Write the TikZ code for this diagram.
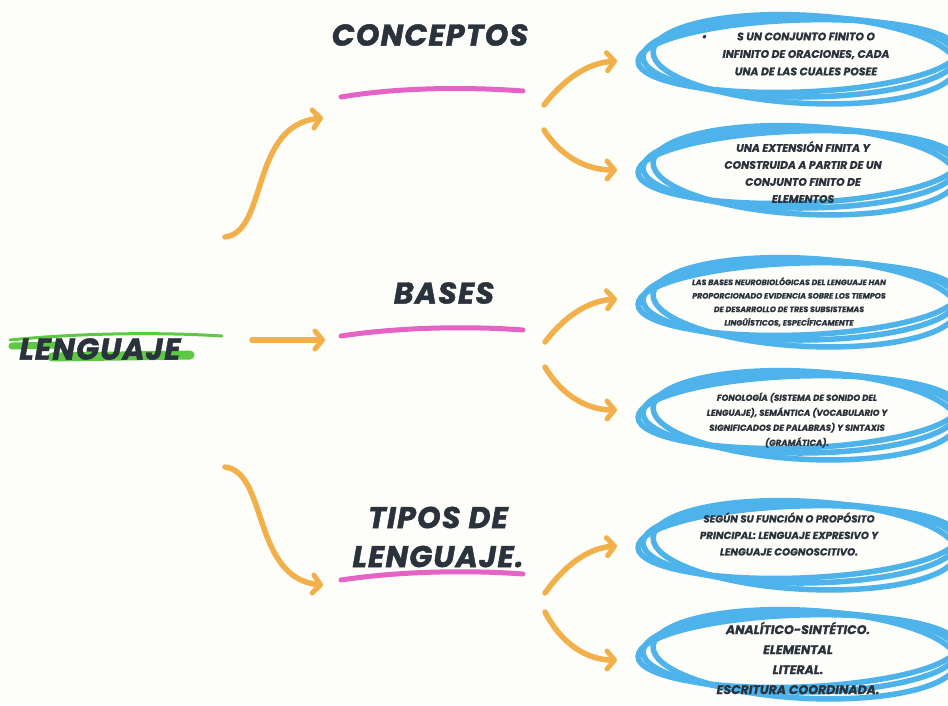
\documentclass[tikz,border=0pt]{standalone}
\usepackage{fontspec}
\setmainfont{Poppins}
\usetikzlibrary{arrows.meta}
\definecolor{bgc}{HTML}{FDFDF9}
\definecolor{ink}{HTML}{2A323C}
\definecolor{orng}{HTML}{F2B04B}
\definecolor{pnk}{HTML}{E463C4}
\definecolor{grn}{HTML}{5CC843}
\definecolor{blu}{HTML}{4DB3EA}
\tikzset{
  headtxt/.style={font=\fontsize{30}{34}\selectfont\bfseries\itshape\addfontfeature{LetterSpace=4,FakeBold=1.5}, text=ink, align=center, inner sep=0pt},
  boxtxt/.style 2 args={font=\fontsize{#1}{#2}\selectfont\bfseries\itshape\addfontfeature{FakeBold=0.8}, text=ink, align=center, inner sep=0pt},
  orarrow/.style={draw=orng, line width=5.5pt, line cap=round,
    -{Straight Barb[length=7.5pt,width=18pt,line width=5pt,round]}},
  pinkline/.style={draw=pnk, line width=5pt, line cap=round},
  greenline/.style={draw=grn, line cap=round},
  blueloop/.style={draw=blu, line width=5.5pt},
}
\begin{document}
\begin{tikzpicture}[x=1pt,y=-1pt]
\fill[bgc] (0,0) rectangle (948,705);
\useasboundingbox (0,0) rectangle (948,705);

% ---- blue loops
\foreach \cy in {57,168,300,413,543,652}{
  \draw[blueloop] (800,\cy) ellipse [x radius=157, y radius=40];
  \draw[blueloop, rotate around={-3:(800,\cy)}] (805,\cy+2) ellipse [x radius=152, y radius=44];
  \draw[blueloop, rotate around={2:(800,\cy)}] (798,\cy-1) ellipse [x radius=160, y radius=36];
}

% ---- green highlight under LENGUAJE
\draw[greenline, line width=3pt] (10,340) .. controls (80,333) and (160,332) .. (222,336);
\draw[greenline, line width=7pt] (12,346) -- (60,345);
\draw[greenline, line width=9pt] (52,357) -- (190,355);

% ---- pink underlines
\draw[pinkline] (341,97) .. controls (400,87) and (470,87) .. (523,91);
\draw[pinkline] (341,336) .. controls (400,327) and (470,326) .. (523,330);
\draw[pinkline] (341,580) .. controls (400,571) and (470,570) .. (523,574);

% ---- nodes
\node[headtxt] (leng) at (100,349) {LENGUAJE};
\node[headtxt] (conc) at (430,35) {CONCEPTOS};
\node[headtxt] (base) at (444,293) {BASES};
\node[headtxt, font=\fontsize{30}{39}\selectfont\bfseries\itshape\addfontfeature{LetterSpace=4,FakeBold=1.5}] (tipo) at (438,537) {TIPOS DE\\LENGUAJE.};

\node[boxtxt={10.8}{17.5}] (c1) at (806,54) {\llap{\textbullet\hspace{30pt}}S UN CONJUNTO FINITO O\\INFINITO DE ORACIONES, CADA\\UNA DE LAS CUALES POSEE};
\node[boxtxt={10.8}{17}] (c2) at (803,172) {UNA EXTENSIÓN FINITA Y\\CONSTRUIDA A PARTIR DE UN\\CONJUNTO FINITO DE\\ELEMENTOS};
\node[boxtxt={7.8}{13.5}] (b1) at (789,302) {LAS BASES NEUROBIOLÓGICAS DEL LENGUAJE HAN\\PROPORCIONADO EVIDENCIA SOBRE LOS TIEMPOS\\DE DESARROLLO DE TRES SUBSISTEMAS\\LINGÜÍSTICOS, ESPECÍFICAMENTE};
\node[boxtxt={8.6}{15}] (b2) at (797,420) {FONOLOGÍA (SISTEMA DE SONIDO DEL\\LENGUAJE), SEMÁNTICA (VOCABULARIO Y\\SIGNIFICADOS DE PALABRAS) Y SINTAXIS\\(GRAMÁTICA).};
\node[boxtxt={10.2}{16.5}] (t1) at (789,534) {SEGÚN SU FUNCIÓN O PROPÓSITO\\PRINCIPAL: LENGUAJE EXPRESIVO Y\\LENGUAJE COGNOSCITIVO.};
\node[boxtxt={12.5}{20}] (t2) at (798,658) {ANALÍTICO-SINTÉTICO.\\ELEMENTAL\\LITERAL.\\ESCRITURA COORDINADA.};

% ---- connector end points
\coordinate (lA) at (225,237);
\coordinate (lB) at (252,340);
\coordinate (lC) at (225,467);
\coordinate (hA) at (323,118);
\coordinate (hB) at (325,340);
\coordinate (hC) at (323,585);
\coordinate (cs1) at (544,105);
\coordinate (cs2) at (544,130);
\coordinate (bs1) at (545,342);
\coordinate (bs2) at (545,367);
\coordinate (ts1) at (545,593);
\coordinate (ts2) at (545,612);
\coordinate (ce1) at (617,61);
\coordinate (ce2) at (617,170);
\coordinate (be1) at (617,299);
\coordinate (be2) at (617,410);
\coordinate (te1) at (617,546);
\coordinate (te2) at (617,660);

% ---- orange connectors
\draw[orarrow] (lA) .. controls (268,232) and (250,125) .. (hA);
\draw[orarrow] (lB) -- (hB);
\draw[orarrow] (lC) .. controls (268,472) and (252,578) .. (hC);

\draw[orarrow] (cs1) .. controls (565,78) and (588,63) .. (ce1);
\draw[orarrow] (cs2) .. controls (562,158) and (588,170) .. (ce2);
\draw[orarrow] (bs1) .. controls (565,316) and (588,301) .. (be1);
\draw[orarrow] (bs2) .. controls (562,396) and (588,410) .. (be2);
\draw[orarrow] (ts1) .. controls (565,565) and (588,548) .. (te1);
\draw[orarrow] (ts2) .. controls (562,645) and (588,660) .. (te2);
\end{tikzpicture}
\end{document}
